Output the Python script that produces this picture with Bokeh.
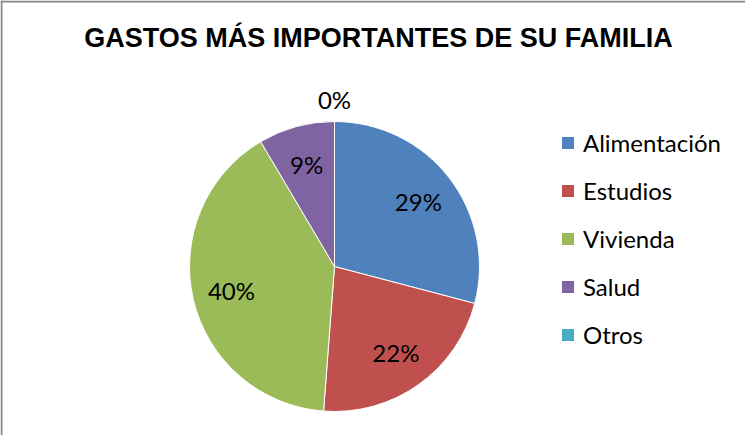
import numpy as np
from bokeh.plotting import figure
from bokeh.models import ColumnDataSource, Legend, LegendItem, Label, Span, CDSView, BooleanFilter
from bokeh.core.properties import value
from bokeh.embed import file_html
from bokeh.resources import INLINE

# Data
categories = ["Alimentación", "Estudios", "Vivienda", "Salud", "Otros"]
shares = [29.1, 22.1, 40.3, 8.5, 0.0]
colors = ["#4F81BD", "#C0504D", "#9BBB59", "#8064A2", "#4BACC6"]
title_text = "GASTOS MÁS IMPORTANTES DE SU FAMILIA"

W, H = 745, 435
cx, cy, R = 334, H - 266, 145

vals = np.array(shares, dtype=float)
frac = vals / vals.sum()
cum = np.concatenate([[0], np.cumsum(frac)])
start = np.pi / 2 - 2 * np.pi * cum[:-1]
end = np.pi / 2 - 2 * np.pi * cum[1:]
mid = (start + end) / 2
lr = np.where(frac > 0, 0.73 * R, 1.15 * R)
lx = cx + lr * np.cos(mid)
ly = cy + lr * np.sin(mid)
labels = [f"{int(np.floor(v + 0.5)):d}%" for v in vals]
nan = [np.nan] * len(categories)

src = ColumnDataSource(dict(cat=categories, start=start, end=end, color=colors,
                            lx=lx, ly=ly, lab=labels, nx=nan))

p = figure(width=W, height=H, x_range=(0, W), y_range=(0, H),
           x_axis_type=None, y_axis_type=None, toolbar_location=None,
           output_backend="svg", min_border=0)
p.grid.visible = False
p.outline_line_color = None
p.background_fill_color = "white"

view = CDSView(filter=BooleanFilter([bool(f > 0) for f in frac]))
p.wedge(x=cx, y=cy, radius=R, start_angle="start", end_angle="end",
        direction="clock", fill_color="color", line_color="white",
        line_width=1, source=src, view=view)

# legend swatches (no on-plot geometry)
sw = p.quad(left="nx", right="nx", top="nx", bottom="nx", fill_color="color",
            line_color=None, source=src)

p.text(x="lx", y="ly", text="lab", source=src, text_align="center",
       text_baseline="middle", text_font=value("Lato"),
       text_font_size="24px", text_color="black")

legend = Legend(items=[LegendItem(label=c, renderers=[sw], index=i)
                       for i, c in enumerate(categories)],
                location=(560, 86), orientation="vertical",
                label_text_font="Lato", label_text_font_size="24px",
                label_text_color="black", glyph_width=15, glyph_height=15,
                label_height=24, spacing=19, padding=0, margin=0,
                border_line_color=None, background_fill_alpha=0,
                label_standoff=8)
p.add_layout(legend)

p.add_layout(Label(x=378, y=H - 37, text=title_text, text_align="center",
                   text_baseline="middle", text_font="Liberation Sans",
                   text_font_style="bold", text_font_size="27px",
                   text_color="black"))

p.add_layout(Span(location=1, dimension="height", line_color="#878787", line_width=2))
p.add_layout(Span(location=H - 1, dimension="width", line_color="#878787", line_width=2))

open("out.html", "w").write(file_html(p, INLINE))
